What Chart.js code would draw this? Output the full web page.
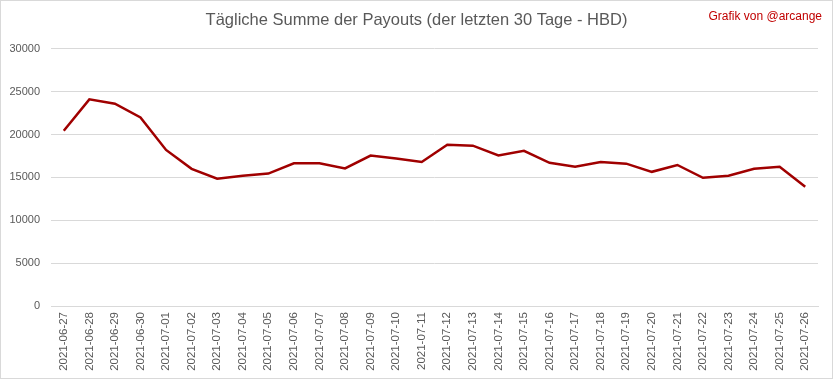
<!DOCTYPE html>
<html>
<head>
<meta charset="utf-8">
<script src="https://cdn.jsdelivr.net/npm/chart.js@4/dist/chart.umd.min.js"></script>
<style>
html,body{margin:0;padding:0;background:#fff;}
#wrap{width:833px;height:379px;position:relative;}
</style>
</head>
<body>
<div id="wrap"><canvas id="c" width="833" height="379"></canvas></div>
<script>
const categories = ["2021-06-27","2021-06-28","2021-06-29","2021-06-30","2021-07-01","2021-07-02","2021-07-03","2021-07-04","2021-07-05","2021-07-06","2021-07-07","2021-07-08","2021-07-09","2021-07-10","2021-07-11","2021-07-12","2021-07-13","2021-07-14","2021-07-15","2021-07-16","2021-07-17","2021-07-18","2021-07-19","2021-07-20","2021-07-21","2021-07-22","2021-07-23","2021-07-24","2021-07-25","2021-07-26"];
const payouts = [20450,24100,23600,22000,18200,16000,14850,15200,15450,16650,16650,16050,17550,17200,16800,18800,18700,17550,18100,16700,16250,16800,16600,15650,16450,14950,15200,16000,16250,13900];
const yTicks = [0,5000,10000,15000,20000,25000,30000];
const titleText = "Tägliche Summe der Payouts (der letzten 30 Tage - HBD)";
const creditText = "Grafik von @arcange";

const framePlugin = {
  id: 'frame',
  afterDraw(chart) {
    const ctx = chart.ctx;
    ctx.save();
    ctx.strokeStyle = '#d9d9d9';
    ctx.lineWidth = 1;
    ctx.strokeRect(0.5, 0.5, chart.width - 1, chart.height - 1);
    ctx.fillStyle = '#c00000';
    ctx.font = '12px "Liberation Sans", sans-serif';
    ctx.textAlign = 'right';
    ctx.textBaseline = 'middle';
    ctx.fillText(creditText, 822, 17);
    ctx.restore();
  }
};

new Chart(document.getElementById('c'), {
  type: 'line',
  data: {
    labels: categories,
    datasets: [{
      data: payouts,
      borderColor: '#a00000',
      borderWidth: 2.5,
      pointRadius: 0,
      tension: 0,
      fill: false
    }]
  },
  options: {
    responsive: false,
    animation: false,
    layout: { padding: 0 },
    plugins: {
      legend: { display: false },
      tooltip: { enabled: false },
      title: {
        display: true,
        text: titleText,
        color: '#595959',
        font: { family: '"Liberation Sans", sans-serif', size: 16.5, weight: 'normal' },
        padding: { top: 11, bottom: 18 }
      }
    },
    scales: {
      x: {
        offset: true,
        grid: { display: false, drawTicks: false },
        border: { display: true, color: '#d9d9d9' },
        ticks: {
          color: '#595959',
          font: { family: '"Liberation Sans", sans-serif', size: 11.5 },
          maxRotation: 90, minRotation: 90,
          autoSkip: false,
          padding: 6
        },
        afterFit(scale) { scale.height = 73; }
      },
      y: {
        min: 0, max: 30000,
        afterBuildTicks(scale) { scale.ticks = yTicks.map(v => ({ value: v })); },
        grid: { color: '#d9d9d9', drawTicks: false },
        border: { display: false },
        ticks: {
          color: '#595959',
          font: { family: '"Liberation Sans", sans-serif', size: 11 },
          padding: 11,
          callback: (v) => String(v)
        },
        afterFit(scale) { scale.width = 51; }
      },
      spacer: {
        type: 'linear',
        position: 'right',
        display: true,
        grid: { display: false, drawTicks: false },
        border: { display: false },
        ticks: { display: false },
        afterFit(scale) { scale.width = 15; }
      }
    }
  },
  plugins: [framePlugin]
});
</script>
</body>
</html>
